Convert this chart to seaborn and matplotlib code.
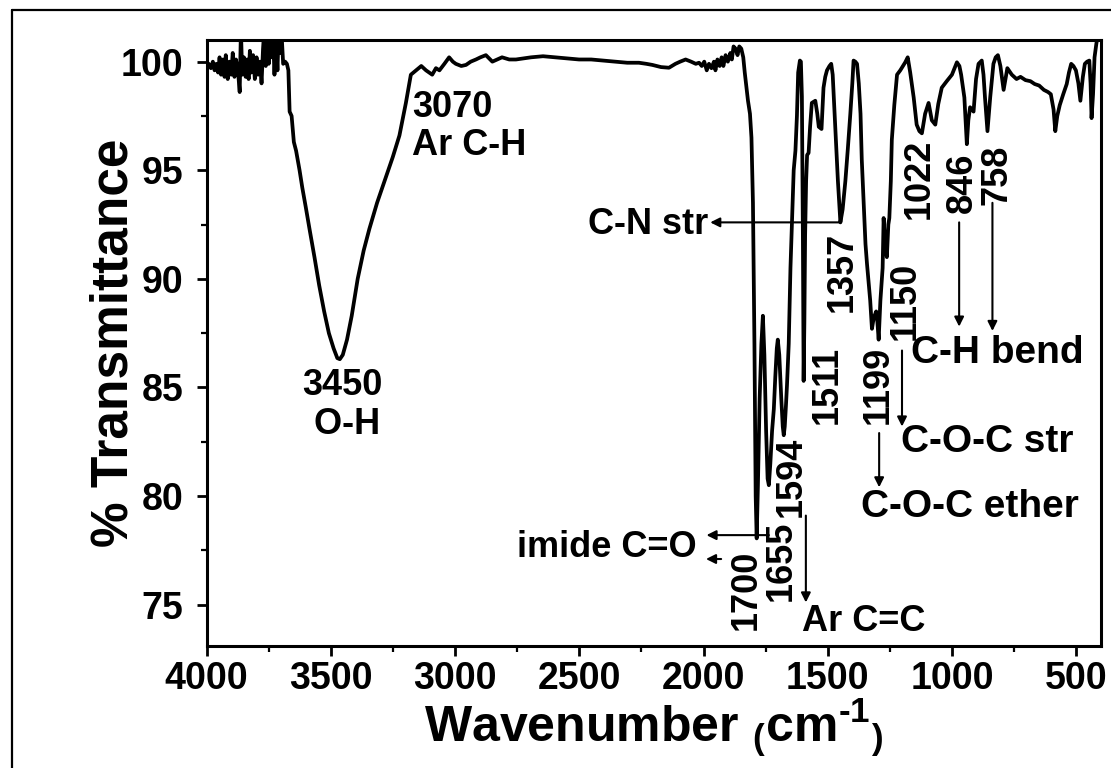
import numpy as np
import pandas as pd
import matplotlib
matplotlib.use("Agg")
import matplotlib.pyplot as plt
from matplotlib.lines import Line2D
from matplotlib.ticker import MultipleLocator
import seaborn as sns

# FTIR spectrum (wavenumber cm-1, % transmittance)
wavenumber = [
    4000, 3992, 3983, 3975, 3968, 3961, 3954, 3948, 3942, 3934, 3928, 3923, 3915, 3908,
    3901, 3895, 3888, 3882, 3874, 3867, 3862, 3857, 3850, 3843, 3837, 3831, 3826, 3820,
    3813, 3806, 3799, 3793, 3785, 3779, 3773, 3768, 3762, 3756, 3750, 3744, 3739, 3733,
    3727, 3721, 3715, 3710, 3704, 3698, 3692, 3684, 3677, 3671, 3666, 3658, 3649, 3640,
    3626, 3615, 3601, 3586, 3566, 3547, 3527, 3508, 3489, 3474, 3464, 3452, 3435, 3416,
    3392, 3368, 3345, 3314, 3278, 3251, 3224, 3198, 3178, 3157, 3136, 3117, 3092, 3077,
    3063, 3043, 3024, 3009, 2997, 2975, 2956, 2937, 2916, 2898, 2876, 2859, 2850, 2830,
    2811, 2782, 2755, 2694, 2646, 2598, 2549, 2501, 2452, 2404, 2355, 2307, 2260, 2230,
    2206, 2171, 2139, 2113, 2094, 2072, 2050, 2031, 2018, 2007, 1997, 1987, 1978, 1968,
    1958, 1952, 1944, 1935, 1927, 1920, 1911, 1902, 1892, 1886, 1879, 1871, 1863, 1856,
    1848, 1840, 1834, 1828, 1821, 1813, 1807, 1801, 1795, 1790, 1786, 1781, 1774, 1767,
    1761, 1755, 1748, 1742, 1737, 1731, 1724, 1717, 1711, 1705, 1701, 1695, 1687, 1681,
    1677, 1673, 1668, 1664, 1657, 1650, 1643, 1637, 1630, 1624, 1619, 1612, 1608, 1604,
    1600, 1597, 1594, 1591, 1587, 1583, 1577, 1571, 1564, 1550, 1542, 1536, 1525, 1517,
    1510, 1503, 1493, 1486, 1480, 1469, 1459, 1449, 1440, 1429, 1419, 1409, 1401, 1396,
    1389, 1382, 1375, 1368, 1363, 1356, 1348, 1342, 1335, 1329, 1322, 1315, 1305, 1300,
    1295, 1288, 1279, 1275, 1269, 1262, 1256, 1252, 1246, 1242, 1232, 1221, 1208, 1188,
    1178, 1168, 1154, 1142, 1131, 1121, 1108, 1094, 1081, 1067, 1055, 1041, 1021, 1000,
    980, 970, 963, 950, 940, 934, 927, 913, 903, 893, 880, 873, 867, 857,
    846, 833, 824, 815, 805, 792, 777, 759, 740, 724, 704, 684, 667, 649,
    630, 613, 602, 591, 584, 576, 566, 552, 538, 529, 520, 511, 501, 491,
    483, 473, 465, 456, 447, 442, 438, 432, 426, 419, 412, 402,
]
transmittance = [
    99.97, 99.9, 99.7, 100.0, 99.6, 99.9, 99.5, 100.2, 99.4, 100.1, 99.3, 100.3, 99.2, 100.0,
    99.4, 100.4, 99.3, 100.1, 99.6, 98.6, 101.5, 99.4, 100.2, 99.3, 100.1, 99.2, 100.5, 99.5,
    100.3, 99.2, 100.2, 99.4, 100.0, 99.0, 100.6, 101.5, 99.8, 101.4, 99.9, 101.5, 100.2, 101.3,
    99.4, 101.2, 99.6, 101.4, 100.4, 101.2, 99.9, 100.0, 99.9, 99.6, 97.7, 97.5, 96.3, 95.9,
    95.0, 94.2, 93.3, 92.3, 91.0, 89.7, 88.5, 87.5, 86.8, 86.35, 86.3, 86.5, 87.2, 88.3,
    90.0, 91.3, 92.3, 93.5, 94.7, 95.6, 96.6, 98.1, 99.4, 99.6, 99.8, 99.6, 99.4, 99.7,
    99.6, 99.9, 100.2, 100.0, 99.9, 99.8, 99.85, 100.0, 100.1, 100.2, 100.3, 100.1, 100.0, 100.1,
    100.2, 100.1, 100.1, 100.2, 100.25, 100.2, 100.15, 100.1, 100.1, 100.05, 100.0, 99.95, 99.95, 99.9,
    99.85, 99.75, 99.72, 99.9, 100.0, 100.1, 100.0, 99.9, 99.95, 99.8, 100.0, 99.6, 99.9, 99.7,
    100.0, 99.6, 100.1, 99.8, 100.2, 99.8, 100.3, 100.0, 100.4, 100.1, 100.7, 100.6, 100.3, 100.7,
    100.6, 100.2, 99.5, 98.9, 98.2, 97.6, 96.5, 93.5, 87.0, 80.0, 78.05, 80.5, 84.5, 87.0,
    88.3, 86.5, 83.0, 80.8, 80.5, 81.5, 83.0, 84.0, 85.5, 86.8, 87.2, 86.5, 84.5, 83.2,
    82.8, 83.2, 84.2, 85.1, 87.0, 90.5, 93.0, 95.0, 95.9, 97.5, 99.5, 100.05, 100.0, 98.4,
    92.0, 85.3, 88.0, 92.0, 94.5, 95.7, 95.8, 97.0, 98.1, 98.2, 97.6, 97.0, 96.9, 98.8,
    99.3, 99.6, 99.8, 99.9, 99.4, 96.8, 94.5, 92.6, 93.2, 94.5, 96.0, 97.6, 99.0, 100.05,
    100.0, 99.9, 99.0, 97.6, 95.5, 93.7, 91.6, 90.7, 89.8, 89.0, 87.7, 88.2, 88.5, 88.0,
    87.2, 89.0, 90.5, 92.8, 91.6, 91.0, 92.5, 92.8, 94.5, 96.4, 98.0, 99.4, 99.6, 99.97,
    100.2, 99.5, 98.35, 97.1, 96.8, 96.7, 97.6, 98.1, 97.3, 97.1, 98.05, 98.8, 99.1, 99.4,
    99.97, 99.8, 99.4, 98.35, 96.2, 97.3, 97.9, 97.7, 99.2, 99.9, 100.05, 99.4, 98.35, 96.8,
    98.35, 99.9, 100.2, 100.3, 99.8, 98.7, 99.7, 99.4, 99.2, 99.3, 99.15, 99.1, 98.97, 98.9,
    98.7, 98.6, 98.5, 97.8, 96.8, 97.5, 98.0, 98.5, 98.97, 99.5, 99.9, 99.8, 99.6, 99.0,
    98.2, 99.3, 99.9, 100.0, 100.05, 99.0, 97.4, 98.5, 100.2, 100.8, 101.3, 101.5,
]

# rotated peak labels: text, x position, y position
peak_labels = ["1700", "1655", "1594", "1511", "1357", "1199", "1150", "1022", "846", "758"]
peak_x = [1826, 1688, 1645, 1501, 1443, 1295, 1189, 1132, 958, 817]
peak_y = [75.7, 77.0, 80.9, 85.1, 90.3, 85.1, 89.0, 94.6, 94.4, 94.8]

df = pd.DataFrame({"wavenumber": wavenumber, "transmittance": transmittance})

sns.set_theme(style="ticks")
plt.rcParams["font.family"] = ["Liberation Sans", "DejaVu Sans"]
plt.rcParams["font.weight"] = "bold"
plt.rcParams["axes.labelweight"] = "bold"
plt.rcParams["text.color"] = "black"
plt.rcParams["axes.labelcolor"] = "black"
plt.rcParams["xtick.color"] = "black"
plt.rcParams["ytick.color"] = "black"
plt.rcParams["mathtext.fontset"] = "custom"
plt.rcParams["mathtext.rm"] = "Liberation Sans:bold"
plt.rcParams["mathtext.it"] = "Liberation Sans:bold"
plt.rcParams["mathtext.bf"] = "Liberation Sans:bold"

fig = plt.figure(figsize=(11.11, 7.68), dpi=100)
ax = fig.add_axes([0.186, 0.159, 0.805, 0.789])

sns.lineplot(data=df, x="wavenumber", y="transmittance", ax=ax, color="black",
             linewidth=2.7, sort=False, estimator=None)

ax.set_xlim(4000, 400)
ax.set_ylim(73.1, 101.0)
ax.xaxis.set_major_locator(MultipleLocator(500))
ax.xaxis.set_minor_locator(MultipleLocator(250))
ax.yaxis.set_major_locator(MultipleLocator(5))
ax.yaxis.set_minor_locator(MultipleLocator(2.5))
ax.tick_params(which="major", direction="out", length=7, width=2, labelsize=27,
               labelcolor="black")
ax.tick_params(axis="x", which="major", pad=4)
ax.tick_params(axis="y", which="major", pad=10)
ax.tick_params(which="minor", direction="out", length=4, width=1.6)
for lab in ax.get_xticklabels() + ax.get_yticklabels():
    lab.set_fontweight("bold")
for sp in ax.spines.values():
    sp.set_linewidth(2.2)
    sp.set_color("black")

ax.set_xlabel("Wavenumber $_{(}$cm$^{\\text{-1}}$$_{)}$", fontsize=36, fontweight="bold")
ax.set_ylabel("% Transmittance", fontsize=37, fontweight="bold")
ax.yaxis.set_label_coords(-0.076, 0.5)
ax.xaxis.set_label_coords(0.5, -0.083)

fs = 26
fs_right = 28
ax.text(3172, 98.7, "3070\nAr C-H", fontsize=fs, fontweight="bold", ha="left", va="top",
        linespacing=1.1)
ax.text(3455, 85.9, "3450\n O-H", fontsize=fs, fontweight="bold", ha="center", va="top",
        linespacing=1.15)

for t, xx, yy in zip(peak_labels, peak_x, peak_y):
    ax.text(xx, yy, t, fontsize=fs, fontweight="bold", rotation=90,
            ha="center", va="center")

arrow = dict(arrowstyle="-|>", color="black", lw=1.5, mutation_scale=14, shrinkA=0, shrinkB=0)

# C-N str
ax.annotate("", xy=(1973, 92.6), xytext=(1449, 92.6), arrowprops=arrow)
ax.text(1982, 92.5, "C-N str", fontsize=fs, fontweight="bold", ha="right", va="center")

# imide C=O
ax.annotate("", xy=(1988, 78.2), xytext=(1737, 78.2), arrowprops=arrow)
ax.annotate("", xy=(1990, 77.1), xytext=(1929, 77.1), arrowprops=arrow)
ax.text(2029, 77.65, "imide C=O", fontsize=fs, fontweight="bold", ha="right", va="center")

# Ar C=C
ax.annotate("", xy=(1588, 75.1), xytext=(1588, 79.1), arrowprops=arrow)
ax.text(1605, 74.2, "Ar C=C", fontsize=fs, fontweight="bold", ha="left", va="center")

# C-O-C str
ax.annotate("", xy=(1201, 83.2), xytext=(1201, 86.7), arrowprops=arrow)
ax.text(1205, 82.5, "C-O-C str", fontsize=fs_right, fontweight="bold", ha="left", va="center")

# C-O-C ether
ax.annotate("", xy=(1293, 80.4), xytext=(1293, 82.9), arrowprops=arrow)
ax.text(1367, 79.5, "C-O-C ether", fontsize=fs_right, fontweight="bold", ha="left",
        va="center")

# C-H bend
ax.annotate("", xy=(971, 87.8), xytext=(971, 92.6), arrowprops=arrow)
ax.annotate("", xy=(837, 87.6), xytext=(837, 93.5), arrowprops=arrow)
ax.text(1164, 86.6, "C-H bend", fontsize=fs_right, fontweight="bold", ha="left", va="center")

# outer frame lines (left and top)
fig.add_artist(Line2D([12 / 1111, 12 / 1111], [0, 1 - 10 / 768], transform=fig.transFigure,
                      color="black", lw=1.6))
fig.add_artist(Line2D([12 / 1111, 1], [1 - 10 / 768, 1 - 10 / 768], transform=fig.transFigure,
                      color="black", lw=1.6))

fig.savefig("out.png", dpi=100)
